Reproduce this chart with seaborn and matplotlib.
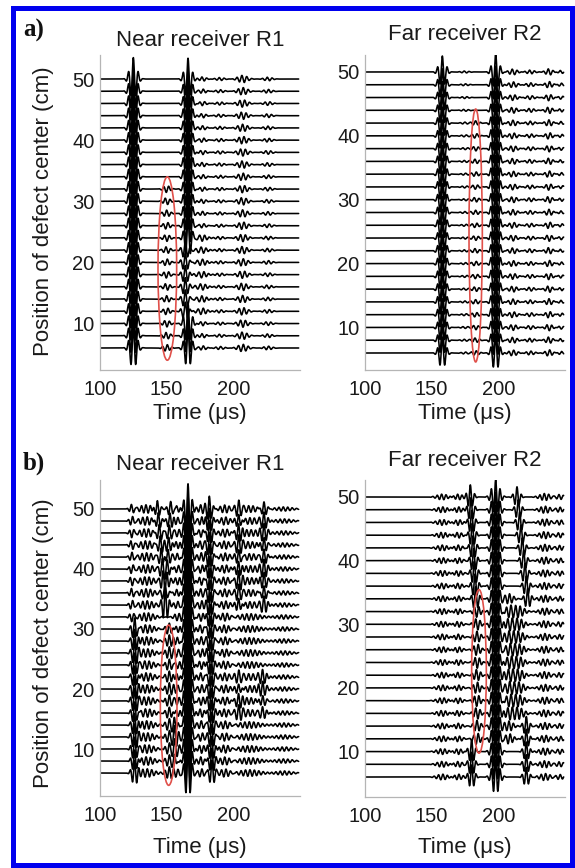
import numpy as np
import pandas as pd
import matplotlib
matplotlib.use("Agg")
import matplotlib.pyplot as plt
import seaborn as sns
from matplotlib.patches import Ellipse, Rectangle

# ---------------- data ----------------
POSITIONS = [6, 8, 10, 12, 14, 16, 18, 20, 22, 24, 26, 28, 30,
             32, 34, 36, 38, 40, 42, 44, 46, 48, 50]          # cm (trace baselines)
TIME_START, TIME_END, TIME_STEP = 100.0, 249.0, 0.1           # microseconds

PANEL_TITLES = ["Near receiver R1", "Far receiver R2",
                "Near receiver R1", "Far receiver R2"]
PANEL_LETTERS = ["a)", "b)"]
X_TICKS = [100, 150, 200]
Y_TICKS = [10, 20, 30, 40, 50]

# wave packets:
# (centre time at pos_max, centre time at pos_min, amplitude [cm], width [us], pos_min, pos_max)
A_NEAR_PACKETS = [
    (125, 125, 3.5, 2.5, 6, 50),
    (166, 166, 3.4, 2.4, 24, 50),
    (166, 166, 3.4, 2.4, 6, 10),
    (164, 164, 1.5, 2.2, 12, 22),
    (150, 150, 0.55, 2.5, 6, 32),
    (177, 177, 0.35, 2.5, 6, 50),
    (176, 176, 0.45, 4.0, 12, 24),
    (190, 190, 0.25, 3.0, 6, 50),
    (207, 207, 0.6, 3.5, 6, 50),
    (226, 226, 0.3, 3.0, 6, 50),
]
A_FAR_PACKETS = [
    (158, 158, 2.5, 2.4, 6, 50),
    (198, 198, 2.9, 2.4, 6, 50),
    (183, 183, 0.35, 2.5, 6, 42),
    (175, 175, 0.15, 3.0, 6, 50),
    (211, 211, 0.45, 3.0, 6, 50),
    (224, 224, 0.3, 3.0, 6, 50),
    (238, 238, 0.5, 2.5, 6, 50),
    (247, 247, 0.25, 2.0, 6, 50),
]
B_NEAR_PACKETS = [
    (124, 124, 0.8, 1.8, 32, 50),
    (126, 126, 2.0, 2.0, 6, 30),
    (135, 135, 0.7, 5.5, 6, 50),
    (143, 149, 1.6, 2.0, 34, 50),
    (153, 149, 1.3, 2.0, 34, 50),
    (158, 158, 0.6, 2.5, 6, 50),
    (166, 166, 4.2, 2.3, 6, 50),
    (176, 176, 0.7, 2.5, 6, 50),
    (182, 184, 2.1, 2.0, 6, 50),
    (204, 204, 1.4, 2.2, 34, 50),
    (223, 223, 1.4, 2.2, 34, 50),
    (204, 204, 1.1, 2.5, 16, 22),
    (222, 222, 1.1, 2.5, 16, 22),
    (194, 194, 0.7, 4.0, 6, 50),
    (212, 212, 0.55, 8.0, 6, 50),
    (152, 152, 1.0, 2.5, 6, 30),
    (156, 156, 1.4, 1.8, 8, 14),
    (238, 238, 0.35, 6.0, 6, 50),
]
B_FAR_PACKETS = [
    (158, 158, 0.45, 4.0, 6, 50),
    (170, 170, 0.45, 3.0, 6, 50),
    (179, 183, 1.9, 2.0, 34, 50),
    (180, 180, 1.9, 2.0, 6, 10),
    (184, 184, 0.9, 2.5, 12, 32),
    (198, 198, 2.7, 2.7, 6, 50),
    (214, 222, 1.6, 2.0, 34, 50),
    (221, 221, 1.5, 2.0, 6, 14),
    (215, 215, 0.9, 4.0, 16, 32),
    (208, 208, 0.8, 3.0, 12, 34),
    (235, 235, 0.55, 4.0, 6, 50),
    (246, 246, 0.4, 3.0, 6, 50),
]
PANEL_PACKETS = [A_NEAR_PACKETS, A_FAR_PACKETS, B_NEAR_PACKETS, B_FAR_PACKETS]
PANEL_FREQ = [0.27, 0.27, 0.30, 0.30]   # cycles per microsecond

# red ellipses marking the defect echo: (centre time, centre pos, width, height)
ELLIPSES = [
    (150.5, 19.0, 14.0, 30.0),
    (183.0, 24.4, 10.0, 39.6),
    (151.5, 17.3, 12.5, 26.7),
    (185.5, 22.6, 11.0, 25.7),
]

# ---------------- build traces ----------------
t = np.arange(TIME_START, TIME_END + 1e-9, TIME_STEP)


def synth(p, packets, f):
    y = np.zeros_like(t)
    for (t_hi, t_lo, amp, sig, pmin, pmax) in packets:
        if pmin <= p <= pmax:
            frac = (p - pmin) / (pmax - pmin) if pmax > pmin else 1.0
            tc = t_lo + (t_hi - t_lo) * frac
            ph = 0.0 if amp >= 1.0 else 0.9 * p
            y += amp * np.exp(-0.5 * ((t - tc) / sig) ** 2) * np.cos(2 * np.pi * f * (t - tc) + ph)
    return p + y


frames = []
for k, (packets, f) in enumerate(zip(PANEL_PACKETS, PANEL_FREQ)):
    for p in POSITIONS:
        frames.append(pd.DataFrame({"panel": k, "trace": p, "time": t,
                                    "signal": synth(p, packets, f)}))
df = pd.concat(frames, ignore_index=True)

# ---------------- layout ----------------
W, H = 575, 868
sns.set_theme(style="white")
plt.rcParams["font.family"] = ["Liberation Sans", "DejaVu Sans"]

fig = plt.figure(figsize=(W / 100, H / 100), dpi=100)

# (left, top, right, bottom) in pixels, plus y-limits
AX_BOXES = [(100, 55, 300, 370), (365, 55, 565, 370),
            (100, 480, 300, 796), (365, 480, 565, 797)]
Y_LIMS = [(2.40, 53.93), (3.34, 52.66), (2.17, 54.83), (2.86, 52.67)]
TITLE_Y = [40, 35, 465, 460]
XLABEL_Y = [414, 414, 847, 847]

def fx(px):
    return px / W

def fy(py):
    return 1 - py / H

spine_c = "#b5b5b5"
for k in range(4):
    l, tp, r, b = AX_BOXES[k]
    ax = fig.add_axes([fx(l), fy(b), (r - l) / W, (b - tp) / H])
    sub = df[df["panel"] == k]
    sns.lineplot(data=sub, x="time", y="signal", units="trace", estimator=None,
                 sort=False, color="black", linewidth=1.15, ax=ax, legend=False)
    cx, cy, ew, eh = ELLIPSES[k]
    ax.add_patch(Ellipse((cx, cy), ew, eh, fill=False, edgecolor="#e0504a", lw=1.2, zorder=5))
    ax.set_xlim(100, 250)
    ax.set_ylim(*Y_LIMS[k])
    ax.set_xticks(X_TICKS)
    ax.set_yticks(Y_TICKS)
    ax.set_xlabel("")
    ax.set_ylabel("")
    for s in ["top", "right"]:
        ax.spines[s].set_visible(False)
    for s in ["left", "bottom"]:
        ax.spines[s].set_color(spine_c)
        ax.spines[s].set_linewidth(0.9)
    ax.tick_params(axis="both", direction="in", length=3, width=0.8, color=spine_c,
                   labelsize=14.5, labelcolor="#1a1a1a")
    ax.tick_params(axis="x", pad=7)
    ax.tick_params(axis="y", pad=4)
    ax.patch.set_alpha(0)
    cxp = (l + r) / 2
    fig.text(fx(cxp), fy(TITLE_Y[k]), PANEL_TITLES[k], ha="center", va="center",
             fontsize=16, color="#1a1a1a")
    fig.text(fx(cxp), fy(XLABEL_Y[k]), "Time (\u03bcs)", ha="center", va="center",
             fontsize=16, color="#1a1a1a")

for yc in [211, 643]:
    fig.text(fx(44), fy(yc), "Position of defect center (cm)", rotation=90,
             ha="center", va="center", fontsize=16, color="#1a1a1a")

for letter, yc in zip(PANEL_LETTERS, [30, 463]):
    fig.text(fx(34), fy(yc), letter, ha="center", va="center", fontsize=18,
             fontweight="bold", family=["Liberation Serif", "DejaVu Serif"], color="#111111")

fig.patches.append(Rectangle((fx(13.5), fy(865)), (572 - 13.5) / W, (865 - 8) / H,
                             transform=fig.transFigure, fill=False,
                             edgecolor="#0000ee", linewidth=3.6))

fig.savefig("out.png", dpi=100)
